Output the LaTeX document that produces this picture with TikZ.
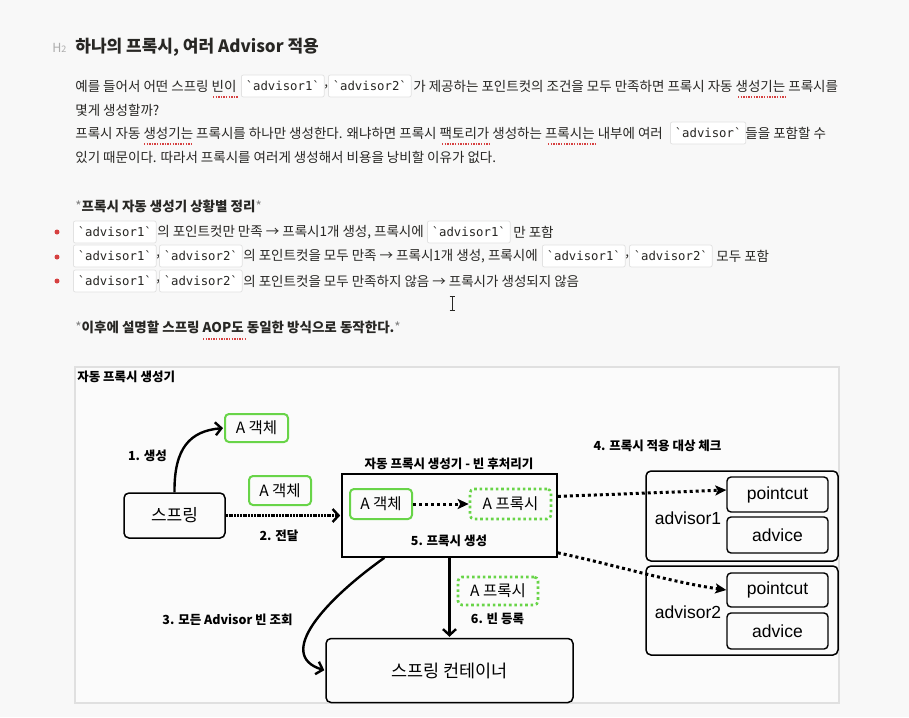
\documentclass[tikz,border=0pt]{standalone}
\usepackage{fontspec}
\setmainfont{Noto Sans CJK KR}
\setmonofont{DejaVu Sans Mono}
\newfontfamily\latfont{Liberation Sans}
\usetikzlibrary{arrows.meta}

\definecolor{pagebg}{RGB}{248,248,248}
\definecolor{ink}{RGB}{40,39,36}
\definecolor{codeline}{RGB}{226,226,226}
\definecolor{spellred}{RGB}{214,64,64}
\definecolor{boxgreen}{RGB}{104,212,72}
\definecolor{framegray}{RGB}{224,224,224}

\tikzset{every picture/.style={line width=0.75pt}}
\tikzset{
  txt/.style={anchor=west, inner sep=0pt, text=ink, font=\fontsize{13.5}{16}\selectfont},
  codebox/.style={anchor=west, draw=codeline, fill=white, rounded corners=2pt, inner xsep=4.4pt, inner ysep=0pt,
    minimum height=22pt, text=ink, font=\ttfamily\fontsize{12.3}{14}\selectfont},
  spell/.style={draw=spellred, line width=1.3pt, dash pattern=on 1.3pt off 1.3pt},
  bulletdot/.style={circle, fill=spellred, inner sep=0pt, minimum size=5pt},
  lab/.style={inner sep=0pt, text=black, font=\bfseries\fontsize{12.5}{14}\selectfont},
  gsolid/.style={draw=boxgreen, line width=2pt, rounded corners=4pt, inner sep=0pt, font=\fontsize{15.5}{17}\selectfont},
  gdot/.style={draw=boxgreen, line width=2.6pt, dash pattern=on 2.6pt off 2.8pt, rounded corners=4pt, inner sep=0pt,
    font=\fontsize{15.5}{17}\selectfont},
  blackbox/.style={draw=black, line width=1.5pt, rounded corners=5pt, inner sep=0pt},
  subbox/.style={draw=black, line width=1.4pt, rounded corners=4pt, inner sep=0pt, minimum width=101pt,
    font=\latfont\fontsize{17.5}{19}\selectfont},
  arr/.style={draw=black, line width=2.4pt, -{Straight Barb[length=6pt,width=13pt]}, shorten >=1pt},
  dotarr/.style={draw=black, line width=3pt, dash pattern=on 3pt off 3pt, -{Stealth[length=11pt,width=10pt,inset=2.5pt]}}
}

\begin{document}
\begin{tikzpicture}[x=1pt,y=1pt,yscale=-1,xscale=1]
\useasboundingbox (0,0) rectangle (909,717);
\fill[pagebg] (0,0) rectangle (909,717);

% Heading
\node[txt, text=gray!65, font=\fontsize{12.5}{14}\selectfont] (hmark) at (52,48) {H{\fontsize{9}{10}\selectfont 2}};
\node[txt, font=\bfseries\fontsize{17}{20}\selectfont] (title) at (75,47) {하나의 프록시, 여러 Advisor 적용};

% Paragraph
\node[txt] (p1a) at (75,86) {예를 들어서 어떤 스프링 빈이};
\node[codebox] (c1) at (241,86) {`advisor1`};
\node[txt] (p1b) at (324,87) {,};
\node[codebox] (c2) at (328,86) {`advisor2`};
\node[txt] (p1c) at (413,86) {가 제공하는 포인트컷의 조건을 모두 만족하면 프록시 자동 생성기는 프록시를};
\node[txt] (p2) at (75,110) {몇게 생성할까?};
\node[txt] (p3a) at (75,133) {프록시 자동 생성기는 프록시를 하나만 생성한다. 왜냐하면 프록시 팩토리가 생성하는 프록시는 내부에 여러};
\node[codebox] (c3) at (670,133) {`advisor`};
\node[txt] (p3b) at (745,133) {들을 포함할 수};
\node[txt] (p4) at (75,157) {있기 때문이다. 따라서 프록시를 여러게 생성해서 비용을 낭비할 이유가 없다.};

% Spell check marks
\draw[spell] (213,97) -- (238,97);
\draw[spell] (738,97) -- (787,97);
\draw[spell] (144,144) -- (193,144);
\draw[spell] (442,144) -- (489,144);
\draw[spell] (548,144) -- (597,144);

% Summary
\node[txt] (sum) at (75,206) {{\color{gray}*}\textbf{프록시 자동 생성기 상황별 정리}{\color{gray}*}};

\node[bulletdot] (b1) at (57,232) {};
\node[codebox] (c4) at (73,232) {`advisor1`};
\node[txt] (s1a) at (157,232) {의 포인트컷만 만족 → 프록시1개 생성, 프록시에};
\node[codebox] (c5) at (427,232) {`advisor1`};
\node[txt] (s1b) at (513,232) {만 포함};

\node[bulletdot] (b2) at (57,257) {};
\node[codebox] (c6) at (73,256) {`advisor1`};
\node[txt] (s2a) at (156,257) {,};
\node[codebox] (c7) at (159,256) {`advisor2`};
\node[txt] (s2b) at (243,256) {의 포인트컷을 모두 만족 → 프록시1개 생성, 프록시에};
\node[codebox] (c8) at (542,256) {`advisor1`};
\node[txt] (s2c) at (625,257) {,};
\node[codebox] (c9) at (629,256) {`advisor2`};
\node[txt] (s2d) at (716,256) {모두 포함};

\node[bulletdot] (b3) at (57,281) {};
\node[codebox] (c10) at (73,281) {`advisor1`};
\node[txt] (s3a) at (156,282) {,};
\node[codebox] (c11) at (159,281) {`advisor2`};
\node[txt] (s3b) at (243,281) {의 포인트컷을 모두 만족하지 않음 → 프록시가 생성되지 않음};

% Text cursor
\draw[ink, line width=0.9pt] (452,297) -- (452,310) (449.5,296.5) -- (454.5,296.5) (449.5,310.5) -- (454.5,310.5);

\node[txt] (aop) at (75,327) {{\color{gray}*}\textbf{이후에 설명할 스프링 AOP도 동일한 방식으로 동작한다.}{\color{gray}*}};
\draw[spell] (203,339) -- (245,339);

% Diagram frame
\draw[framegray, fill=white!50!pagebg, line width=1.2pt] (75,367) rectangle (839,703);
\node[lab, anchor=west] (dtitle) at (77,377) {자동 프록시 생성기};

% Nodes
\node[gsolid, minimum width=63pt, minimum height=28pt] (objtop) at (256.5,428) {A 객체};
\node[lab] (l1) at (147.5,456) {1. 생성};
\node[blackbox, minimum width=101pt, minimum height=45pt, font=\fontsize{17}{19}\selectfont] (spring) at (174.5,515.5) {스프링};
\node[gsolid, minimum width=62pt, minimum height=29pt] (objmid) at (280,490.5) {A 객체};
\node[lab] (l2) at (279,536) {2. 전달};

\node[draw=black, line width=1.6pt, minimum width=215pt, minimum height=83pt, inner sep=0pt] (apc) at (449.5,515.5) {};
\node[lab] (apctitle) at (449,464) {자동 프록시 생성기 - 빈 후처리기};
\node[gsolid, minimum width=62pt, minimum height=30pt] (objin) at (381,504) {A 객체};
\node[gdot, minimum width=81pt, minimum height=30pt] (proxyin) at (510.5,504) {A 프록시};
\node[lab] (l5) at (449,541) {5. 프록시 생성};

\node[lab] (l4) at (657.5,446) {4. 프록시 적용 대상 체크};
\node[blackbox, minimum width=192pt, minimum height=90pt] (adv1) at (742,516) {};
\node[subbox, minimum height=35pt] (pc1) at (777.5,494.5) {pointcut};
\node[subbox, minimum height=36pt] (ad1) at (777.5,535) {advice};
\node[inner sep=0pt, font=\latfont\fontsize{17.5}{19}\selectfont] (adv1lbl) at (688,518) {advisor1};
\node[blackbox, minimum width=192pt, minimum height=89pt] (adv2) at (742,610.5) {};
\node[subbox, minimum height=34pt] (pc2) at (777.5,590) {pointcut};
\node[subbox, minimum height=36pt] (ad2) at (777.5,631) {advice};
\node[inner sep=0pt, font=\latfont\fontsize{17.5}{19}\selectfont] (adv2lbl) at (688,612) {advisor2};

\node[lab] (l3) at (227.5,620) {3. 모든 Advisor 빈 조회};
\node[gdot, minimum width=80pt, minimum height=28pt] (proxybot) at (498,591) {A 프록시};
\node[lab] (l6) at (497.5,619) {6. 빈 등록};
\node[blackbox, minimum width=247pt, minimum height=64pt, font=\fontsize{17.5}{19}\selectfont] (container) at (449.5,670.5) {스프링 컨테이너};

% Connectors
\draw[arr] (spring.north) .. controls (174,448) and (190,431) .. (objtop.west);
\draw[arr, dash pattern=on 2pt off 0.8pt] (spring.east) -- (apc.west);
\draw[dotarr] (objin.east) -- (proxyin.west);
\draw[dotarr] (apc.10) -- (pc1.175);
\draw[dotarr] (apc.-19) .. controls (615,565) and (670,582) .. (pc2.west);
\draw[arr] (apc.213) .. controls (325,600) and (275,655) .. (container.west);
\draw[arr] (apc.south) -- (container.north);

\end{tikzpicture}
\end{document}
